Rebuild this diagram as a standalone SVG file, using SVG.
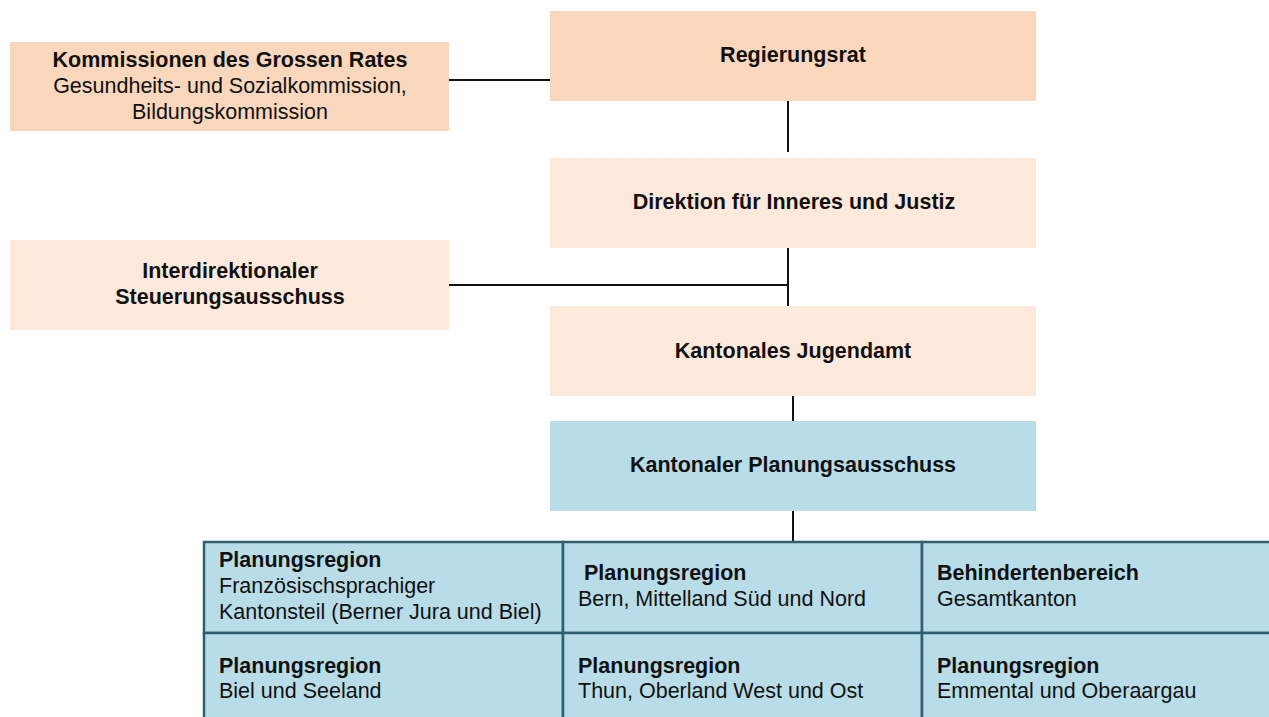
<svg xmlns="http://www.w3.org/2000/svg" width="1269" height="717" viewBox="0 0 1269 717">
<style>
  text { font-family: "Liberation Sans", Arial, sans-serif; font-size: 21.5px; fill: #111; }
  .b { font-weight: bold; }
  .c { text-anchor: middle; }
  .dark { fill: #f9d7bc; }
  .light { fill: #fce9dc; }
  .blue { fill: #b8dde8; }
  .cell { fill: #b8dde8; stroke: #2d5f6e; stroke-width: 2.5; }
  .conn { stroke: #111; stroke-width: 2; fill: none; }
</style>
<rect width="1269" height="717" fill="#fff"/>
<g id="connectors">
  <line class="conn" x1="449" y1="80" x2="550" y2="80"/>
  <line class="conn" x1="788" y1="100" x2="788" y2="152"/>
  <line class="conn" x1="788" y1="248" x2="788" y2="306"/>
  <line class="conn" x1="449" y1="285" x2="788" y2="285"/>
  <line class="conn" x1="793" y1="389" x2="793" y2="421"/>
  <line class="conn" x1="793" y1="510" x2="793" y2="541"/>
</g>
<g id="kommissionen">
  <rect class="dark" x="10" y="42" width="439" height="89"/>
  <text class="b c" x="230" y="67">Kommissionen des Grossen Rates</text>
  <text class="c" x="230" y="93">Gesundheits- und Sozialkommission,</text>
  <text class="c" x="230" y="119">Bildungskommission</text>
</g>
<g id="regierungsrat">
  <rect class="dark" x="550" y="11" width="486" height="90"/>
  <text class="b c" x="793" y="62">Regierungsrat</text>
</g>
<g id="direktion">
  <rect class="light" x="550" y="158" width="486" height="90"/>
  <text class="b c" x="794" y="209">Direktion für Inneres und Justiz</text>
</g>
<g id="interdirektional">
  <rect class="light" x="10" y="240" width="439" height="90"/>
  <text class="b c" x="230" y="278">Interdirektionaler</text>
  <text class="b c" x="230" y="304">Steuerungsausschuss</text>
</g>
<g id="jugendamt">
  <rect class="light" x="550" y="306" width="486" height="90"/>
  <text class="b c" x="793" y="358">Kantonales Jugendamt</text>
</g>
<g id="planungsausschuss">
  <rect class="blue" x="550" y="421" width="486" height="90"/>
  <text class="b c" x="793" y="472">Kantonaler Planungsausschuss</text>
</g>
<g id="cell-franz">
  <rect class="cell" x="204" y="542" width="359" height="91"/>
  <text class="b" x="219" y="567">Planungsregion</text>
  <text x="219" y="593">Französischsprachiger</text>
  <text x="219" y="619">Kantonsteil (Berner Jura und Biel)</text>
</g>
<g id="cell-bern">
  <rect class="cell" x="563" y="542" width="359" height="91"/>
  <text class="b" x="584" y="580">Planungsregion</text>
  <text x="578" y="606">Bern, Mittelland Süd und Nord</text>
</g>
<g id="cell-behinderten">
  <rect class="cell" x="922" y="542" width="360" height="91"/>
  <text class="b" x="937" y="580">Behindertenbereich</text>
  <text x="937" y="606">Gesamtkanton</text>
</g>
<g id="cell-biel">
  <rect class="cell" x="204" y="633" width="359" height="95"/>
  <text class="b" x="219" y="673">Planungsregion</text>
  <text x="219" y="698">Biel und Seeland</text>
</g>
<g id="cell-thun">
  <rect class="cell" x="563" y="633" width="359" height="95"/>
  <text class="b" x="578" y="673">Planungsregion</text>
  <text x="578" y="698">Thun, Oberland West und Ost</text>
</g>
<g id="cell-emmental">
  <rect class="cell" x="922" y="633" width="360" height="95"/>
  <text class="b" x="937" y="673">Planungsregion</text>
  <text x="937" y="698">Emmental und Oberaargau</text>
</g>
</svg>
